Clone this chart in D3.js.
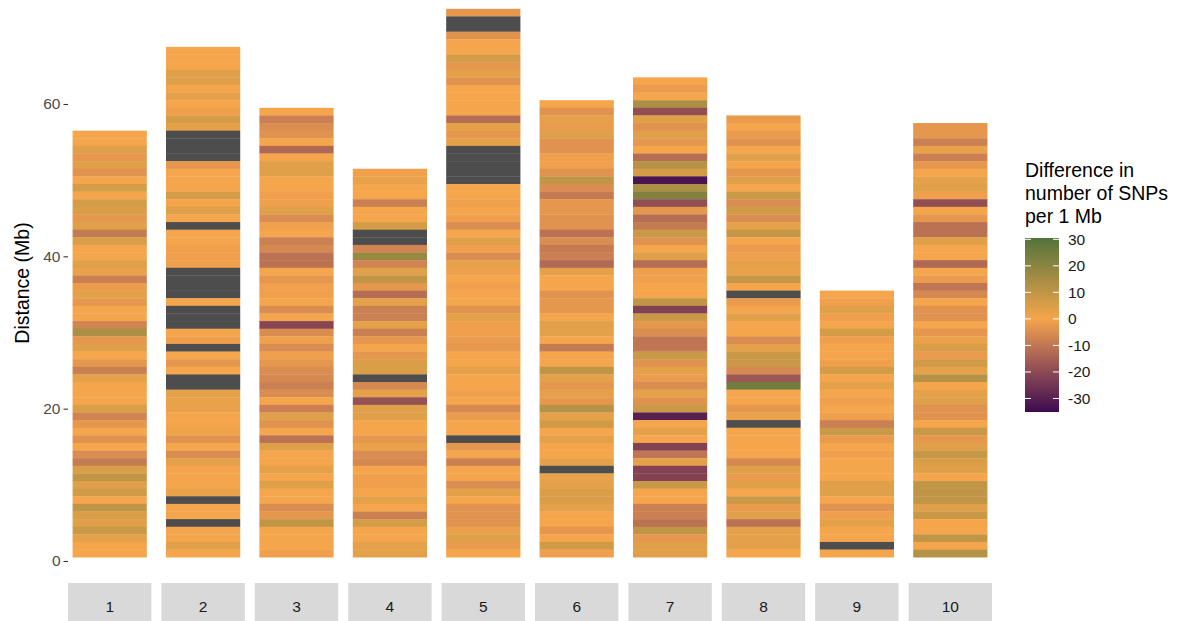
<!DOCTYPE html>
<html><head><meta charset="utf-8">
<script src="https://cdn.jsdelivr.net/npm/d3@7"></script>
<style>
body{margin:0;background:#fff}
svg{display:block}
text{font-family:"Liberation Sans",Arial,sans-serif}
</style>
</head><body>
<svg id="c" width="1198" height="621"></svg>
<script>
// Chromosome labels
const chromosomes = ["1","2","3","4","5","6","7","8","9","10"];
// Difference in number of SNPs per 1 Mb bin, listed from the TOP bin down to bin 1; null = no data
const chr1 = [0,0,4,-3,4,-4,0,6,0,6,5,-3,4,-9,5,0,0,4,2,-8,-2,3,-3,0,0,-7,14,-3,4,0,-3,-8,3,0,0,0,5,-7,-3,0,-4,0,-5,-9,5,10,4,7,0,10,5,4,8,3,0,0];
const chr2 = [0,0,0,4,4,0,3,0,-1,6,3,null,null,null,null,-3,0,0,0,6,0,4,0,null,0,0,-1,-1,-1,null,null,null,null,0,null,null,null,0,-1,null,0,-3,0,null,null,3,2,2,0,0,1,-4,0,-5,3,0,0,0,2,null,0,0,null,0,0,4,0];
const chr3 = [0,-8,-5,-4,0,-13,0,4,4,0,0,-1,-1,4,-5,-1,0,-8,-6,-11,-11,0,-3,-1,-1,0,-5,0,-21,-5,-1,-5,-1,-3,-5,-6,-8,-5,0,-8,4,-4,0,-11,4,0,0,3,0,4,0,0,-5,-3,10,0,0,0,-1];
const chr4 = [-1,2,0,0,-8,0,0,6,null,null,-7,18,-7,4,10,-3,-12,3,-8,-8,3,-8,-3,0,-3,5,5,null,-6,3,-18,4,4,0,0,-3,2,-5,-6,0,-1,-1,0,3,0,-8,6,0,0,3,3];
const chr5 = [-3,null,null,-4,0,0,6,-3,3,-4,0,0,0,0,-12,3,-3,3,null,null,null,null,null,0,0,-1,0,-1,-5,0,4,-1,-5,3,-1,0,-1,0,0,-4,3,-1,-1,-2,-3,0,0,3,0,0,-1,0,-6,-2,0,0,null,-3,0,-8,0,0,-5,3,0,-4,-4,-4,2,4,-2,0];
const chr6 = [0,-4,3,-2,4,-4,-4,-1,-1,-4,10,-5,-9,-3,-3,-4,-4,-11,-5,-9,-8,-13,3,0,0,-4,-3,-3,0,4,3,0,-9,0,0,10,3,-3,3,-3,12,3,7,0,3,0,0,3,null,2,3,5,5,3,0,0,-3,0,7,-1];
const chr7 = [0,-2,0,14,-19,4,-4,4,-3,0,-12,12,6,-33,14,22,-19,-3,-12,-9,8,-4,0,4,-12,-1,-1,0,0,10,-22,8,-3,-5,-10,-10,8,-4,3,-2,-5,3,-4,8,-30,0,3,0,-22,-10,3,-22,-22,8,0,0,-8,-8,-11,10,-3,4,4];
const chr8 = [-2,0,-2,-4,0,4,0,-3,4,0,8,-5,7,-5,3,9,0,-2,-1,3,2,9,0,null,-2,0,4,0,0,-5,3,8,8,-6,-17,25,0,0,-3,2,null,0,0,0,0,-6,4,-2,4,0,8,-2,4,-11,3,3,3,0];
const chr9 = [0,-1,4,-1,0,6,-1,0,0,-1,6,0,3,0,-1,0,-1,-8,8,-2,0,-1,0,0,0,4,4,0,-4,-1,3,0,0,null,0];
const chr10 = [-3,-3,-8,2,-8,-3,0,3,4,-1,-19,0,-3,-11,-11,4,0,0,-13,0,-2,-10,-6,0,-4,-4,0,-3,2,5,-2,7,3,12,0,3,4,-4,-4,0,8,-3,4,9,5,4,0,10,10,10,4,8,0,0,10,0,12];
const seriesTopDown = [chr1,chr2,chr3,chr4,chr5,chr6,chr7,chr8,chr9,chr10];

const yTicks = [0,20,40,60];
const legendBreaks = [-30,-20,-10,0,10,20,30];
const legendLimits = [-35.1, 30.5];
const legendTitle = ["Difference in","number of SNPs","per 1 Mb"];
const yTitle = "Distance (Mb)";

const svg = d3.select("#c");
const x = d3.scaleBand().domain(chromosomes).range([68, 992]).paddingInner(0.107).paddingOuter(0);
const y = d3.scaleLinear().domain([0,60]).range([561,104]);
const cmax = Math.max(Math.abs(legendLimits[0]), Math.abs(legendLimits[1]));
const color = d3.scaleLinear().domain([-cmax,0,cmax])
  .range(["#3d0a50","#f5a54b","#356a39"]).interpolate(d3.interpolateLab);
const naColor = "#4d4d4d";

// tiles
const tiles = [];
chromosomes.forEach((c,ci)=>{
  const vals = seriesTopDown[ci];
  const n = vals.length;
  vals.forEach((v,i)=>{ tiles.push({chr:c, bin:n-i, value:v}); });
});
const bw = x.bandwidth();
const tileW = bw*0.89;
svg.append("g").selectAll("rect").data(tiles).join("rect")
  .attr("x", d=>x(d.chr)+(bw-tileW)/2)
  .attr("width", tileW)
  .attr("y", d=>y(d.bin+0.5))
  .attr("height", d=>y(d.bin-0.5)-y(d.bin+0.5)+0.3)
  .attr("fill", d=>d.value===null?naColor:color(d.value));

// y axis
const yAxis = svg.append("g").attr("transform","translate(68,0)")
  .call(d3.axisLeft(y).tickValues(yTicks).tickSize(4.5).tickPadding(3));
yAxis.select(".domain").remove();
yAxis.selectAll(".tick line").attr("stroke","#333333").attr("stroke-width",1.1);
yAxis.selectAll(".tick text").attr("fill","#4d4d4d").style("font-size","15.5px")
  .style("font-family",'"Liberation Sans",Arial,sans-serif');

svg.append("text").attr("transform","translate(29,283) rotate(-90)")
  .attr("text-anchor","middle").style("font-size","19.5px").attr("fill","#000")
  .text(yTitle);

// strips
const strips = svg.append("g");
strips.selectAll("rect").data(chromosomes).join("rect")
  .attr("x", d=>x(d)).attr("y",583).attr("width",bw).attr("height",38).attr("fill","#d9d9d9");
strips.selectAll("text").data(chromosomes).join("text")
  .attr("x", d=>x(d)+bw/2).attr("y",611.5).attr("text-anchor","middle")
  .style("font-size","15.5px").attr("fill","#1a1a1a").text(d=>d);

// legend
const lg = svg.append("g");
legendTitle.forEach((t,i)=>{
  lg.append("text").attr("x",1025).attr("y",177+i*23).style("font-size","19.5px").attr("fill","#000").text(t);
});
const ly = d3.scaleLinear().domain(legendLimits).range([412,238]);
const defs = svg.append("defs");
const grad = defs.append("linearGradient").attr("id","lgrad").attr("x1",0).attr("x2",0).attr("y1",1).attr("y2",0);
d3.range(0,1.0001,0.02).forEach(t=>{
  const v = legendLimits[0] + t*(legendLimits[1]-legendLimits[0]);
  grad.append("stop").attr("offset",t).attr("stop-color",color(v));
});
lg.append("rect").attr("x",1025).attr("y",238).attr("width",34).attr("height",174).attr("fill","url(#lgrad)");
legendBreaks.forEach(b=>{
  lg.append("line").attr("x1",1025).attr("x2",1031).attr("y1",ly(b)).attr("y2",ly(b)).attr("stroke","#fff").attr("stroke-width",1);
  lg.append("line").attr("x1",1053).attr("x2",1059).attr("y1",ly(b)).attr("y2",ly(b)).attr("stroke","#fff").attr("stroke-width",1);
  lg.append("text").attr("x",1068).attr("y",ly(b)).attr("dy","0.35em").style("font-size","15.5px").attr("fill","#1a1a1a").text(b);
});
</script>
</body></html>
